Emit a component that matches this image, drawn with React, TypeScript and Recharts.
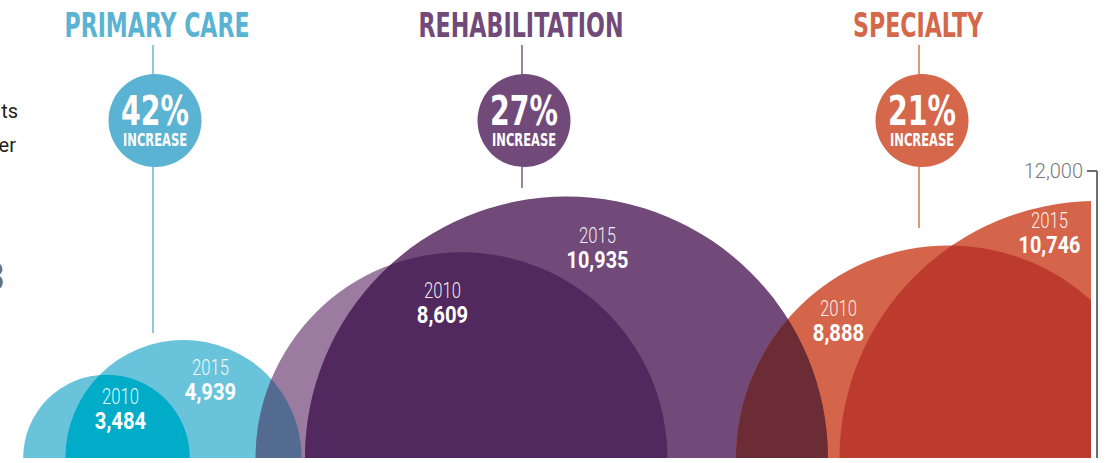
import { Bar, BarChart, LabelList, XAxis, YAxis } from "recharts";

// visits by service line, 2010 vs 2015
const CATEGORIES = ["PRIMARY CARE", "REHABILITATION", "SPECIALTY"];
const YEARS = ["2010", "2015"];
const VISITS_2010 = [3484, 8609, 8888];
const VISITS_2015 = [4939, 10935, 10746];
const Y_TICKS = [12000];

// layout only: where each half-disc sits on the (pixel-unit) x axis, and its label nudge
const CENTERS = [106, 183, 461, 566, 948, 1096];
const LABEL_DX = [14, 27, -19, 31, -110, -47];
const LABEL_RISE = [54, 83, 160, 215, 142, 230];
const ANNOT_X = [
  { title: 157, line: 153, circle: 155, lineEnd: 333 },
  { title: 521, line: 522, circle: 524, lineEnd: 188 },
  { title: 918, line: 919, circle: 922, lineEnd: 228 },
];
const TITLE_W = [185, 205, 130];

const W = 1105;
const H = 463;
const PLOT_TOP = 171;
const PLOT_RIGHT_GAP = 8;
const CLIP_RIGHT = W - PLOT_RIGHT_GAP - 6;

const FONT = "'Liberation Sans Narrow', 'DejaVu Sans Condensed', 'Liberation Sans', sans-serif";
const LABEL_FONT = "Roboto, 'Open Sans', sans-serif";
const GROUP_COLOR = ["#5BB3D3", "#714A7A", "#D5674B"];
const BASE_FILL = ["#69C3DB", "#69C3DB", "#9B7CA0", "#714A7A", "#D4654A", "#D4654A"];
const OVERLAP_FILL = ["", "#00ACC8", "#536B90", "#52295E", "#6B2C36", "#BD3A2F"];
const AXIS_GRAY = "#6D6E71";

const rows = CATEGORIES.flatMap((cat, g) => [
  { cat, year: YEARS[0], value: VISITS_2010[g] },
  { cat, year: YEARS[1], value: VISITS_2015[g] },
]).map((r, i) => ({ ...r, idx: i, pos: CENTERS[i] }));

const pctIncrease = CATEGORIES.map((_, g) =>
  Math.round(((VISITS_2015[g] - VISITS_2010[g]) / VISITS_2010[g]) * 100)
);

// half disc: radius is the bar height, so the value goes through the y scale
function HalfDisc(props: any) {
  const { x, y, width, height, payload } = props;
  const i = payload.idx;
  const cx = x + width / 2;
  const base = y + height;
  const r = height;
  const d = `M${cx - r},${base} A${r},${r} 0 0 1 ${cx + r},${base} Z`;
  return (
    <g>
      <clipPath id={`plot-clip-${i}`}>
        <rect x={0} y={0} width={CLIP_RIGHT} height={H} />
      </clipPath>
      <clipPath id={`disc-${i}`}>
        <path d={d} />
      </clipPath>
      <g clipPath={`url(#plot-clip-${i})`}>
        <path d={d} fill={BASE_FILL[i]} />
        {i > 0 && (
          <path d={d} fill={OVERLAP_FILL[i]} clipPath={`url(#disc-${i - 1})`} />
        )}
      </g>
    </g>
  );
}

function DiscLabel(props: any) {
  const vb = props.viewBox || props;
  const row = rows.find((r) => r.value === props.value);
  if (!row) return null;
  const i = row.idx;
  const cx = vb.x + vb.width / 2 + LABEL_DX[i];
  const base = vb.y + vb.height;
  const yy = base - LABEL_RISE[i];
  const txt = row.value.toLocaleString("en-US");
  return (
    <g fontFamily={LABEL_FONT} fill="#fff" textAnchor="middle">
      <text
        x={cx}
        y={yy}
        fontSize={22}
        fontWeight={300}
        fillOpacity={0.92}
        textLength={37}
        lengthAdjust="spacingAndGlyphs"
      >
        {row.year}
      </text>
      <text
        x={cx}
        y={yy + 24.5}
        fontSize={23}
        fontWeight={700}
        textLength={txt.length * 10.3}
        lengthAdjust="spacingAndGlyphs"
      >
        {txt}
      </text>
    </g>
  );
}

function Annotations() {
  return (
    <svg
      width={W}
      height={H}
      style={{ position: "absolute", left: 0, top: 0, pointerEvents: "none" }}
    >
      <g fontFamily={LABEL_FONT}>
        <text x={18} y={118} fontSize={20} fill="#231F20" textAnchor="end">
          ts
        </text>
        <text x={16} y={152} fontSize={20} fill="#231F20" textAnchor="end">
          er
        </text>
        <text x={5} y={290} fontSize={38} fill={AXIS_GRAY} textAnchor="end">
          3
        </text>
      </g>
      {CATEGORIES.map((cat, g) => {
        const a = ANNOT_X[g];
        const c = GROUP_COLOR[g];
        return (
          <g key={cat} fontFamily={FONT} textAnchor="middle">
            <text
              x={a.title}
              y={36.5}
              fontSize={33}
              fontWeight={700}
              fill={c}
              textLength={TITLE_W[g]}
              lengthAdjust="spacingAndGlyphs"
            >
              {cat}
            </text>
            <line x1={a.line} x2={a.line} y1={45} y2={76} stroke={c} strokeWidth={1.4} />
            <line x1={a.line} x2={a.line} y1={165} y2={a.lineEnd} stroke={c} strokeWidth={1.4} />
            <circle cx={a.circle} cy={120.5} r={46.5} fill={c} />
            <text
              x={a.circle}
              y={125}
              fontSize={41}
              fontWeight={700}
              fill="#fff"
              textLength={68}
              lengthAdjust="spacingAndGlyphs"
            >
              {pctIncrease[g]}%
            </text>
            <text
              x={a.circle}
              y={146}
              fontSize={18}
              fontWeight={700}
              fill="#fff"
              textLength={64}
              lengthAdjust="spacingAndGlyphs"
            >
              INCREASE
            </text>
          </g>
        );
      })}
    </svg>
  );
}

export default function App() {
  return (
    <div
      style={{
        position: "absolute",
        left: 0,
        top: 0,
        width: W,
        height: H,
        background: "#fff",
      }}
    >
      <BarChart
        width={W}
        height={H}
        data={rows}
        margin={{ top: PLOT_TOP, right: PLOT_RIGHT_GAP, bottom: 5, left: 0 }}
      >
        <XAxis
          type="number"
          dataKey="pos"
          domain={[0, W - PLOT_RIGHT_GAP]}
          allowDataOverflow
          hide
        />
        <YAxis
          orientation="right"
          mirror
          domain={[0, 12000]}
          ticks={Y_TICKS}
          width={70}
          tickSize={10}
          tickMargin={4}
          axisLine={{ stroke: AXIS_GRAY, strokeWidth: 2 }}
          tickLine={{ stroke: AXIS_GRAY, strokeWidth: 2 }}
          tick={{ fill: "#77787B", fontSize: 20, fontWeight: 300, fontFamily: LABEL_FONT }}
          tickFormatter={(v: number) => v.toLocaleString("en-US")}
        />
        <Bar
          dataKey="value"
          barSize={2}
          shape={(p: any) => <HalfDisc {...p} />}
          isAnimationActive={false}
        >
          <LabelList dataKey="value" content={(p: any) => <DiscLabel {...p} />} />
        </Bar>
      </BarChart>
      <Annotations />
    </div>
  );
}
